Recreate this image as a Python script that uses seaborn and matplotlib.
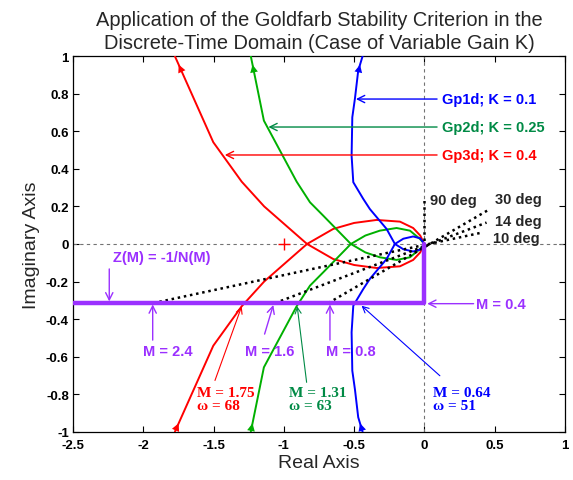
import numpy as np
import pandas as pd
import matplotlib
matplotlib.use("Agg")
import matplotlib.pyplot as plt
import seaborn as sns

# ---------------- data ----------------
# One branch of each Nyquist curve (bottom leg -> origin); the other half is its mirror image
red_x = [-1.775, -1.502, -1.30, -1.14, -0.835, -0.649, -0.50, -0.34, -0.174, -0.08, -0.03, 0.0]
red_y = [-1.00, -0.542, -0.332, -0.20, 0.0, 0.080, 0.112, 0.128, 0.119, 0.085, 0.045, 0.0]

green_x = [-1.235, -1.142, -0.909, -0.814, -0.72, -0.523, -0.42, -0.317, -0.198, -0.103, -0.032, 0.0]
green_y = [-1.00, -0.657, -0.332, -0.222, -0.151, 0.0, 0.045, 0.071, 0.085, 0.071, 0.027, 0.0]

blue_x = [-0.44, -0.471, -0.494, -0.513, -0.518, -0.506, -0.435, -0.388, -0.269, -0.21, -0.15, -0.08, -0.03, 0.0]
blue_y = [-1.00, -0.923, -0.776, -0.675, -0.47, -0.329, -0.24, -0.186, -0.08, 0.0, 0.028, 0.040, 0.030, 0.0]

# describing-function locus Z(M) = -1/N(M)
z_level = -0.315
z_x = [-2.5, 0.0, 0.0]
z_y = [z_level, z_level, 0.0]

# dotted angle lines: start at M points on the locus, end at the labelled angle
ang_start_x = [-1.929, -1.063, -0.684, 0.0]
ang_end_x = [0.418, 0.442, 0.466, 0.0]
ang_end_y = [0.062, 0.114, 0.186, 0.24]
ang_labels = ["10 deg", "14 deg", "30 deg", "90 deg"]

curve_labels = ["Gp1d; K = 0.1", "Gp2d; K = 0.25", "Gp3d; K = 0.4"]
m_labels = ["M = 2.4", "M = 1.6", "M = 0.8", "M = 0.4"]
cross_labels = ["M = 1.75\nω = 68", "M = 1.31\nω = 63", "M = 0.64\nω = 51"]

x_ticks = [-2.5, -2, -1.5, -1, -0.5, 0, 0.5, 1]
y_ticks = [-1, -0.8, -0.6, -0.4, -0.2, 0, 0.2, 0.4, 0.6, 0.8, 1]

RED = "#ff0000"
GREEN = "#00b000"
DKGREEN = "#008a45"
BLUE = "#0000ff"
PURPLE = "#9b30ff"

# ---------------- style ----------------
sns.set_style("ticks", {"axes.edgecolor": "black", "xtick.direction": "in",
                        "ytick.direction": "in", "xtick.color": "black",
                        "ytick.color": "black"})
plt.rcParams["font.family"] = ["Liberation Sans", "DejaVu Sans"]

fig = plt.figure(figsize=(5.73, 4.81), dpi=100)
ax = fig.add_axes([0.1274, 0.1004, 0.8586, 0.7806])

# grey dashed axes through the origin
ax.axhline(0, color="0.45", lw=0.8, ls=(0, (3, 3)), zorder=1)
ax.axvline(0, color="0.45", lw=0.8, ls=(0, (3, 3)), zorder=1)


def draw_curve(xs, ys, color):
    xs = np.asarray(xs, float)
    ys = np.asarray(ys, float)
    for sgn in (1, -1):
        df = pd.DataFrame({"x": xs, "y": sgn * ys})
        sns.lineplot(data=df, x="x", y="y", sort=False, estimator=None,
                     color=color, lw=1.4, ax=ax, zorder=3)
    # direction arrows on the outer legs (both pointing up)
    leg_y = ys[:5]
    leg_x = xs[:5]
    for tip_y, base_y in ((0.955, 0.90), (-0.955, -1.0)):
        if tip_y > 0:
            tx = np.interp(-tip_y, leg_y, leg_x)
            bx = np.interp(-base_y, leg_y, leg_x)
        else:
            tx = np.interp(tip_y, leg_y, leg_x)
            bx = np.interp(base_y, leg_y, leg_x)
        ax.annotate("", xy=(tx, tip_y), xytext=(bx, base_y),
                    arrowprops=dict(arrowstyle="-|>", color=color, lw=0,
                                    mutation_scale=14, shrinkA=0, shrinkB=0),
                    zorder=4)


draw_curve(red_x, red_y, RED)
draw_curve(green_x, green_y, GREEN)
draw_curve(blue_x, blue_y, BLUE)

# describing function locus
zdf = pd.DataFrame({"x": z_x, "y": z_y})
sns.lineplot(data=zdf, x="x", y="y", sort=False, estimator=None,
             color=PURPLE, lw=3.2, ax=ax, zorder=5)

# dotted angle lines
for sx, ex, ey, lab in zip(ang_start_x, ang_end_x, ang_end_y, ang_labels):
    ax.plot([sx, ex], [z_level, ey], color="black", lw=1.8, ls=(0, (1, 1.5)),
            zorder=4)

# critical point
ax.plot([-1], [0], marker="+", color=RED, ms=9, mew=1.0, zorder=4)

bold = dict(fontweight="bold", fontsize=10.5)
# angle labels
ax.text(0.04, 0.235, ang_labels[3], ha="left", va="center", **bold)
ax.text(0.50, 0.237, ang_labels[2], ha="left", va="center", **bold)
ax.text(0.50, 0.122, ang_labels[1], ha="left", va="center", **bold)
ax.text(0.49, 0.034, ang_labels[0], ha="left", va="center", **bold)

# curve labels
arrow_kw = dict(arrowstyle="->", lw=1.0, mutation_scale=13, shrinkA=0, shrinkB=0)
for lab, col, ly, px in zip(curve_labels, [BLUE, DKGREEN, RED],
                            [0.772, 0.623, 0.474], [-0.487, -1.11, -1.42]):
    ax.annotate("", xy=(px, ly), xytext=(0.09, ly),
                arrowprops=dict(color=col, **arrow_kw), zorder=6)
    ax.text(0.125, ly, lab, color=col, ha="left", va="center", **bold)

# purple labels
ax.annotate("", xy=(-2.242, -0.306), xytext=(-2.242, -0.133),
            arrowprops=dict(color=PURPLE, **arrow_kw), zorder=6)
ax.text(-1.87, -0.069, "Z(M) = -1/N(M)", color=PURPLE, ha="center", va="center", **bold)

m_text_x = [-1.828, -1.099, -0.526]
m_arrow = [((-1.933, -0.512), (-1.933, -0.322)),
           ((-1.137, -0.48), (-1.075, -0.325)),
           ((-0.672, -0.512), (-0.672, -0.322))]
for lab, tx, (a0, a1) in zip(m_labels[:3], m_text_x, m_arrow):
    ax.annotate("", xy=a1, xytext=a0,
                arrowprops=dict(color=PURPLE, **arrow_kw), zorder=6)
    ax.text(tx, -0.569, lab, color=PURPLE, ha="center", va="center", **bold)
ax.annotate("", xy=(0.02, -0.318), xytext=(0.35, -0.318),
            arrowprops=dict(color=PURPLE, **arrow_kw), zorder=6)
ax.text(0.37, -0.32, m_labels[3], color=PURPLE, ha="left", va="center", **bold)

# crossing point labels (serif)
serif = dict(family=["Liberation Serif", "DejaVu Serif"], fontweight="bold",
             fontsize=11, linespacing=1.05)
thin_kw = dict(arrowstyle="->", lw=0.8, mutation_scale=11, shrinkA=0, shrinkB=0)
for lab, col, tx, a0, a1 in zip(cross_labels, [RED, DKGREEN, BLUE],
                                [-1.62, -0.964, 0.063],
                                [(-1.49, -0.727), (-0.838, -0.737), (0.11, -0.702)],
                                [(-1.30, -0.332), (-0.905, -0.332), (-0.447, -0.329)]):
    ax.annotate("", xy=a1, xytext=a0, arrowprops=dict(color=col, **thin_kw), zorder=6)
    ax.text(tx, -0.826, lab, color=col, ha="left", va="center", **serif)

# axes
ax.set_xlim(-2.5, 1)
ax.set_ylim(-1, 1)
ax.set_xticks(x_ticks)
ax.set_yticks(y_ticks)
ax.set_xticklabels([f"{v:g}" for v in x_ticks], fontweight="bold", fontsize=9.5)
ax.set_yticklabels([f"{v:g}" for v in y_ticks], fontweight="bold", fontsize=9.5)
ax.tick_params(top=True, right=True, direction="in", length=4, width=0.8)
ax.tick_params(axis="x", pad=5.5)
ax.tick_params(axis="y", pad=3)
for s in ax.spines.values():
    s.set_linewidth(0.9)
    s.set_visible(True)
ax.set_xlabel("Real Axis", fontsize=14, labelpad=2)
ax.set_ylabel("Imaginary Axis", fontsize=14, labelpad=4)
ax.set_title("Application of the Goldfarb Stability Criterion in the\n"
             "Discrete-Time Domain (Case of Variable Gain K)",
             fontsize=14.4, linespacing=1.25, pad=6)

fig.savefig("out.png", dpi=100)
